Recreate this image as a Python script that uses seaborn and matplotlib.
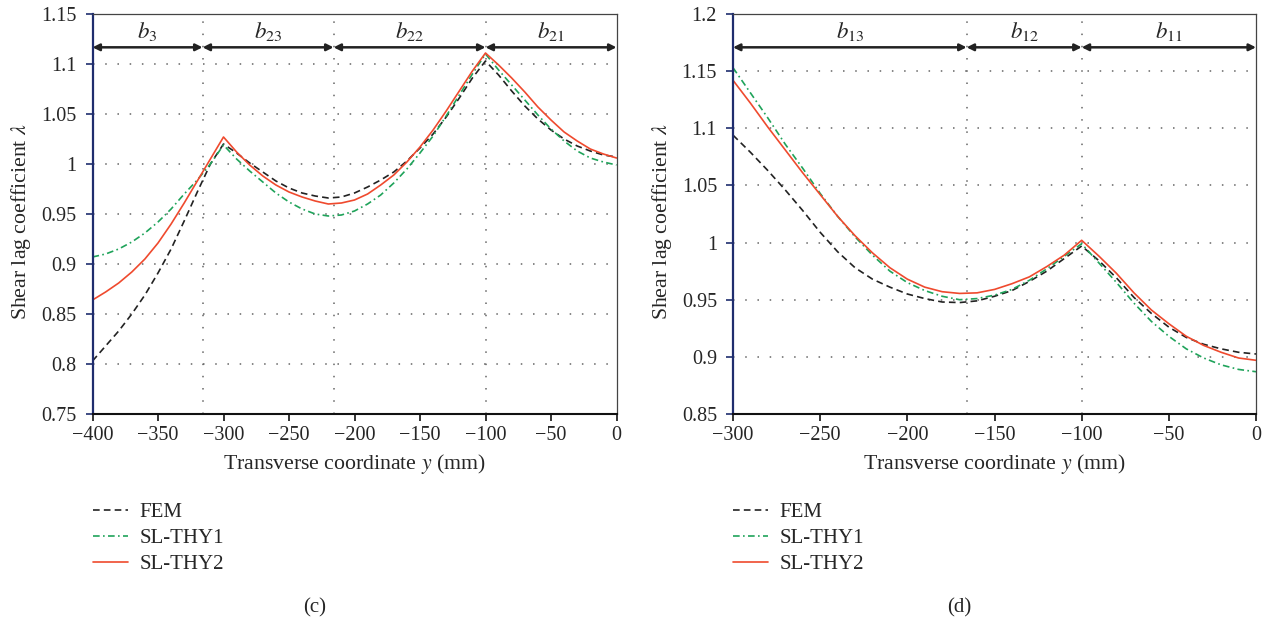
'''
    ---------------------------------
    libraries
    ---------------------------------
'''
import numpy as np
import pandas as pd
import matplotlib
matplotlib.use('Agg')
import matplotlib.pyplot as plt
import seaborn as sns
from matplotlib.lines import Line2D
from matplotlib.ticker import FuncFormatter

'''
    ---------------------------------
    data read off the figure
    ---------------------------------
'''
methods = ['FEM', 'SL-THY1', 'SL-THY2']

# (c) left panel, y = -400 ... 0 mm every 10 mm
y_c = list(range(-400, 1, 10))
fem_c = [0.803, 0.818, 0.833, 0.850, 0.869, 0.891, 0.915, 0.943, 0.972, 1.000,
         1.020, 1.011, 1.001, 0.992, 0.983, 0.976, 0.971, 0.968, 0.966, 0.967,
         0.971, 0.977, 0.984, 0.992, 1.003, 1.016, 1.030, 1.047, 1.066, 1.086,
         1.103, 1.089, 1.073, 1.058, 1.045, 1.034, 1.025, 1.018, 1.013, 1.009,
         1.007]
thy1_c = [0.907, 0.910, 0.915, 0.922, 0.931, 0.942, 0.955, 0.970, 0.984, 1.000,
          1.019, 1.005, 0.993, 0.982, 0.971, 0.962, 0.955, 0.950, 0.948, 0.949,
          0.953, 0.960, 0.969, 0.981, 0.995, 1.011, 1.028, 1.048, 1.069, 1.090,
          1.110, 1.094, 1.079, 1.064, 1.049, 1.035, 1.023, 1.013, 1.006, 1.002,
          0.999]
thy2_c = [0.864, 0.872, 0.881, 0.892, 0.905, 0.921, 0.940, 0.961, 0.983, 1.005,
          1.027, 1.012, 0.999, 0.988, 0.979, 0.972, 0.967, 0.963, 0.960, 0.961,
          0.964, 0.970, 0.979, 0.989, 1.002, 1.017, 1.034, 1.053, 1.073, 1.093,
          1.111, 1.099, 1.086, 1.072, 1.057, 1.044, 1.032, 1.023, 1.015, 1.010,
          1.006]
bounds_c = [-400, -316, -216, -100, 0]
names_c = ['$b_{3}$', '$b_{23}$', '$b_{22}$', '$b_{21}$']

# (d) right panel, y = -300 ... 0 mm every 10 mm
y_d = list(range(-300, 1, 10))
fem_d = [1.094, 1.079, 1.063, 1.046, 1.028, 1.009, 0.992, 0.978, 0.968, 0.961,
         0.955, 0.951, 0.948, 0.9475, 0.949, 0.953, 0.958, 0.966, 0.975, 0.986,
         0.997, 0.984, 0.969, 0.952, 0.938, 0.926, 0.917, 0.911, 0.907, 0.904,
         0.9025]
thy1_d = [1.153, 1.131, 1.109, 1.086, 1.065, 1.043, 1.023, 1.005, 0.989, 0.975,
          0.965, 0.958, 0.953, 0.950, 0.951, 0.954, 0.959, 0.967, 0.977, 0.988,
          0.999, 0.982, 0.965, 0.947, 0.931, 0.918, 0.907, 0.899, 0.893, 0.889,
          0.887]
thy2_d = [1.142, 1.122, 1.101, 1.081, 1.061, 1.042, 1.023, 1.006, 0.991, 0.978,
          0.968, 0.961, 0.957, 0.9555, 0.956, 0.959, 0.964, 0.970, 0.979, 0.989,
          1.002, 0.988, 0.973, 0.956, 0.941, 0.929, 0.918, 0.910, 0.904, 0.899,
          0.897]
bounds_d = [-300, -166, -100, 0]
names_d = ['$b_{13}$', '$b_{12}$', '$b_{11}$']

'''
    ---------------------------------
    styling
    ---------------------------------
'''
sns.set_style('white')
plt.rcParams['font.family'] = 'serif'
plt.rcParams['font.serif'] = ['Liberation Serif', 'DejaVu Serif']
plt.rcParams['mathtext.fontset'] = 'stix'

palette = {'FEM': '#222222', 'SL-THY1': '#1fa35a', 'SL-THY2': '#ef4a2e'}
dashes = {'FEM': (4, 2.5), 'SL-THY1': (4, 2, 1, 2), 'SL-THY2': ''}
navy = '#1f2d6e'
grid_style = dict(color='#666666', linestyle=(0, (1, 7)), linewidth=1.1)


def make_long(y, fem, thy1, thy2):
    df = pd.DataFrame({'y': y, 'FEM': fem, 'SL-THY1': thy1, 'SL-THY2': thy2})
    return df.melt(id_vars='y', var_name='method', value_name='lam')


def draw_panel(ax, df, xlim, ylim, bounds, names, caption_x, caption):
    sns.lineplot(data=df, x='y', y='lam', hue='method', style='method',
                 palette=palette, dashes=dashes, estimator=None,
                 linewidth=1.2, legend=False, ax=ax)
    ax.set_xlim(*xlim)
    ax.set_ylim(*ylim)
    ax.set_xticks(np.arange(xlim[0], xlim[1] + 1, 50))
    ax.set_yticks(np.round(np.arange(ylim[0], ylim[1] + 0.001, 0.05), 2))
    ax.yaxis.set_major_formatter(FuncFormatter(lambda v, p: f'{v:g}'))

    ax.yaxis.grid(True, **grid_style)
    ax.xaxis.grid(False)
    for b in bounds[1:-1]:
        ax.axvline(b, zorder=0, **grid_style)

    # segment arrows and labels at the top
    trans = ax.get_xaxis_transform()
    for x0, x1, name in zip(bounds[:-1], bounds[1:], names):
        ax.annotate('', xy=(x1, 0.9167), xytext=(x0, 0.9167), xycoords=trans,
                    textcoords=trans,
                    arrowprops=dict(arrowstyle='<|-|>', color='#222222', lw=1.8,
                                    mutation_scale=10, shrinkA=0, shrinkB=0),
                    annotation_clip=False)
        ax.text((x0 + x1) / 2, 0.9557, name, transform=trans, ha='center',
                va='center', fontsize=16.5)

    for side in ['top', 'right']:
        ax.spines[side].set_color('#444444')
        ax.spines[side].set_linewidth(0.9)
    ax.spines['bottom'].set_color('#111111')
    ax.spines['bottom'].set_linewidth(1.5)
    ax.spines['left'].set_color(navy)
    ax.spines['left'].set_linewidth(1.6)
    ax.tick_params(axis='x', direction='out', length=5, width=1.2,
                   color='#111111', labelsize=14.5, pad=4, bottom=True)
    ax.tick_params(axis='y', direction='out', length=5, width=1.2,
                   color=navy, labelsize=14.5, pad=6.5, left=True)

    ax.set_xlabel('Transverse coordinate $y$ (mm)', fontsize=15.7, labelpad=5)
    ax.set_ylabel(r'Shear lag coefficient $\lambda$', fontsize=15.7)
    ax.yaxis.set_label_coords(-0.113, 0.48)

    handles = [Line2D([], [], color=palette[m], lw=1.2,
                      dashes=dashes[m] if dashes[m] else (None, None))
               for m in methods]
    ax.legend(handles, methods, loc='upper left', bbox_to_anchor=(0, -0.222),
              frameon=False, fontsize=15, borderpad=0, borderaxespad=0,
              handlelength=1.7, handletextpad=0.55, labelspacing=0.3)
    ax.figure.text(caption_x, 0.027, caption, ha='center', va='center',
                   fontsize=15)


'''
    ---------------------------------
    figure
    ---------------------------------
'''
fig = plt.figure(figsize=(12.66, 6.25), dpi=100)
ax_c = fig.add_axes([92.5 / 1266, 1 - 414 / 625, 524 / 1266, 400 / 625])
ax_d = fig.add_axes([733 / 1266, 1 - 414 / 625, 523 / 1266, 400 / 625])

draw_panel(ax_c, make_long(y_c, fem_c, thy1_c, thy2_c), (-400, 0), (0.75, 1.15),
           bounds_c, names_c, 315 / 1266, '(c)')
draw_panel(ax_d, make_long(y_d, fem_d, thy1_d, thy2_d), (-300, 0), (0.85, 1.2),
           bounds_d, names_d, 959 / 1266, '(d)')

plt.savefig('out.png', dpi=100)
